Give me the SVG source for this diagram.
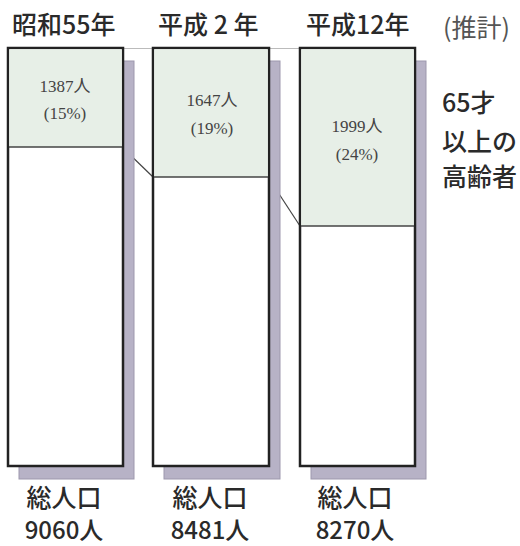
<svg xmlns="http://www.w3.org/2000/svg" width="520" height="546" viewBox="0 0 520 546">
<style>
.shadow{fill:#b7b2c6;stroke:#9d98ad;stroke-width:1}
.bar{fill:#ffffff;stroke:#222;stroke-width:2.5}
.old{fill:#e7efe7}
.div{stroke:#444;stroke-width:1.5}
.conn{stroke:#444;stroke-width:1.2;fill:none}
.top{stroke:#bbb;stroke-width:1.2}
.hd{font-family:"Noto Sans CJK JP","Noto Sans",sans-serif;font-size:25px;font-weight:500;fill:#2a2a2a}
.note{font-family:"Noto Sans CJK JP","Noto Sans",sans-serif;font-size:25px;fill:#555}
.in{font-family:"Liberation Serif","Noto Sans CJK JP",serif;font-size:17px;fill:#444;text-anchor:middle}
.side{font-family:"Noto Sans CJK JP","Noto Sans",sans-serif;font-size:25px;font-weight:500;fill:#2a2a2a}
.bt{font-family:"Noto Sans CJK JP","Noto Sans",sans-serif;font-size:25px;font-weight:500;fill:#2a2a2a;text-anchor:middle}
.num{font-size:24px}
</style>
<rect width="520" height="546" fill="#fff"/>
<g id="headers">
<text class="hd" x="12" y="34">昭和55年</text>
<text class="hd" x="158" y="34">平成 2 年</text>
<text class="hd" x="306" y="34">平成12年</text>
<text class="note" x="443" y="37">(推計)</text>
</g>
<g id="connectors">
<line class="top" x1="122" y1="48.5" x2="300" y2="48.5"/>
<line class="conn" x1="122" y1="147" x2="153" y2="177"/>
<line class="conn" x1="268" y1="177" x2="300" y2="226"/>
</g>
<g id="bar-s55">
<rect class="shadow" x="19" y="61" width="115" height="418"/>
<rect class="bar" x="8" y="48" width="115" height="418"/>
<rect class="old" x="9.25" y="49.25" width="112.5" height="97.75"/>
<line class="div" x1="9" y1="147" x2="122" y2="147"/>
<text class="in" x="65" y="92">1387人</text>
<text class="in" x="65" y="119">(15%)</text>
<text class="bt" x="64" y="507">総人口</text>
<text class="bt num" x="64" y="539">9060人</text>
</g>
<g id="bar-h2">
<rect class="shadow" x="164" y="61" width="116" height="418"/>
<rect class="bar" x="153" y="48" width="116" height="418"/>
<rect class="old" x="154.25" y="49.25" width="113.5" height="127.75"/>
<line class="div" x1="154" y1="177" x2="268" y2="177"/>
<text class="in" x="212" y="106">1647人</text>
<text class="in" x="212" y="134">(19%)</text>
<text class="bt" x="210" y="507">総人口</text>
<text class="bt num" x="210" y="539">8481人</text>
</g>
<g id="bar-h12">
<rect class="shadow" x="311" y="61" width="115" height="418"/>
<rect class="bar" x="300" y="48" width="115" height="418"/>
<rect class="old" x="301.25" y="49.25" width="112.5" height="176.75"/>
<line class="div" x1="301" y1="226" x2="414" y2="226"/>
<text class="in" x="357" y="132">1999人</text>
<text class="in" x="357" y="160">(24%)</text>
<text class="bt" x="355" y="507">総人口</text>
<text class="bt num" x="355" y="539">8270人</text>
</g>
<g id="legend">
<text class="side" x="442" y="112">65才</text>
<text class="side" x="442" y="151">以上の</text>
<text class="side" x="442" y="186">高齢者</text>
</g>
</svg>
